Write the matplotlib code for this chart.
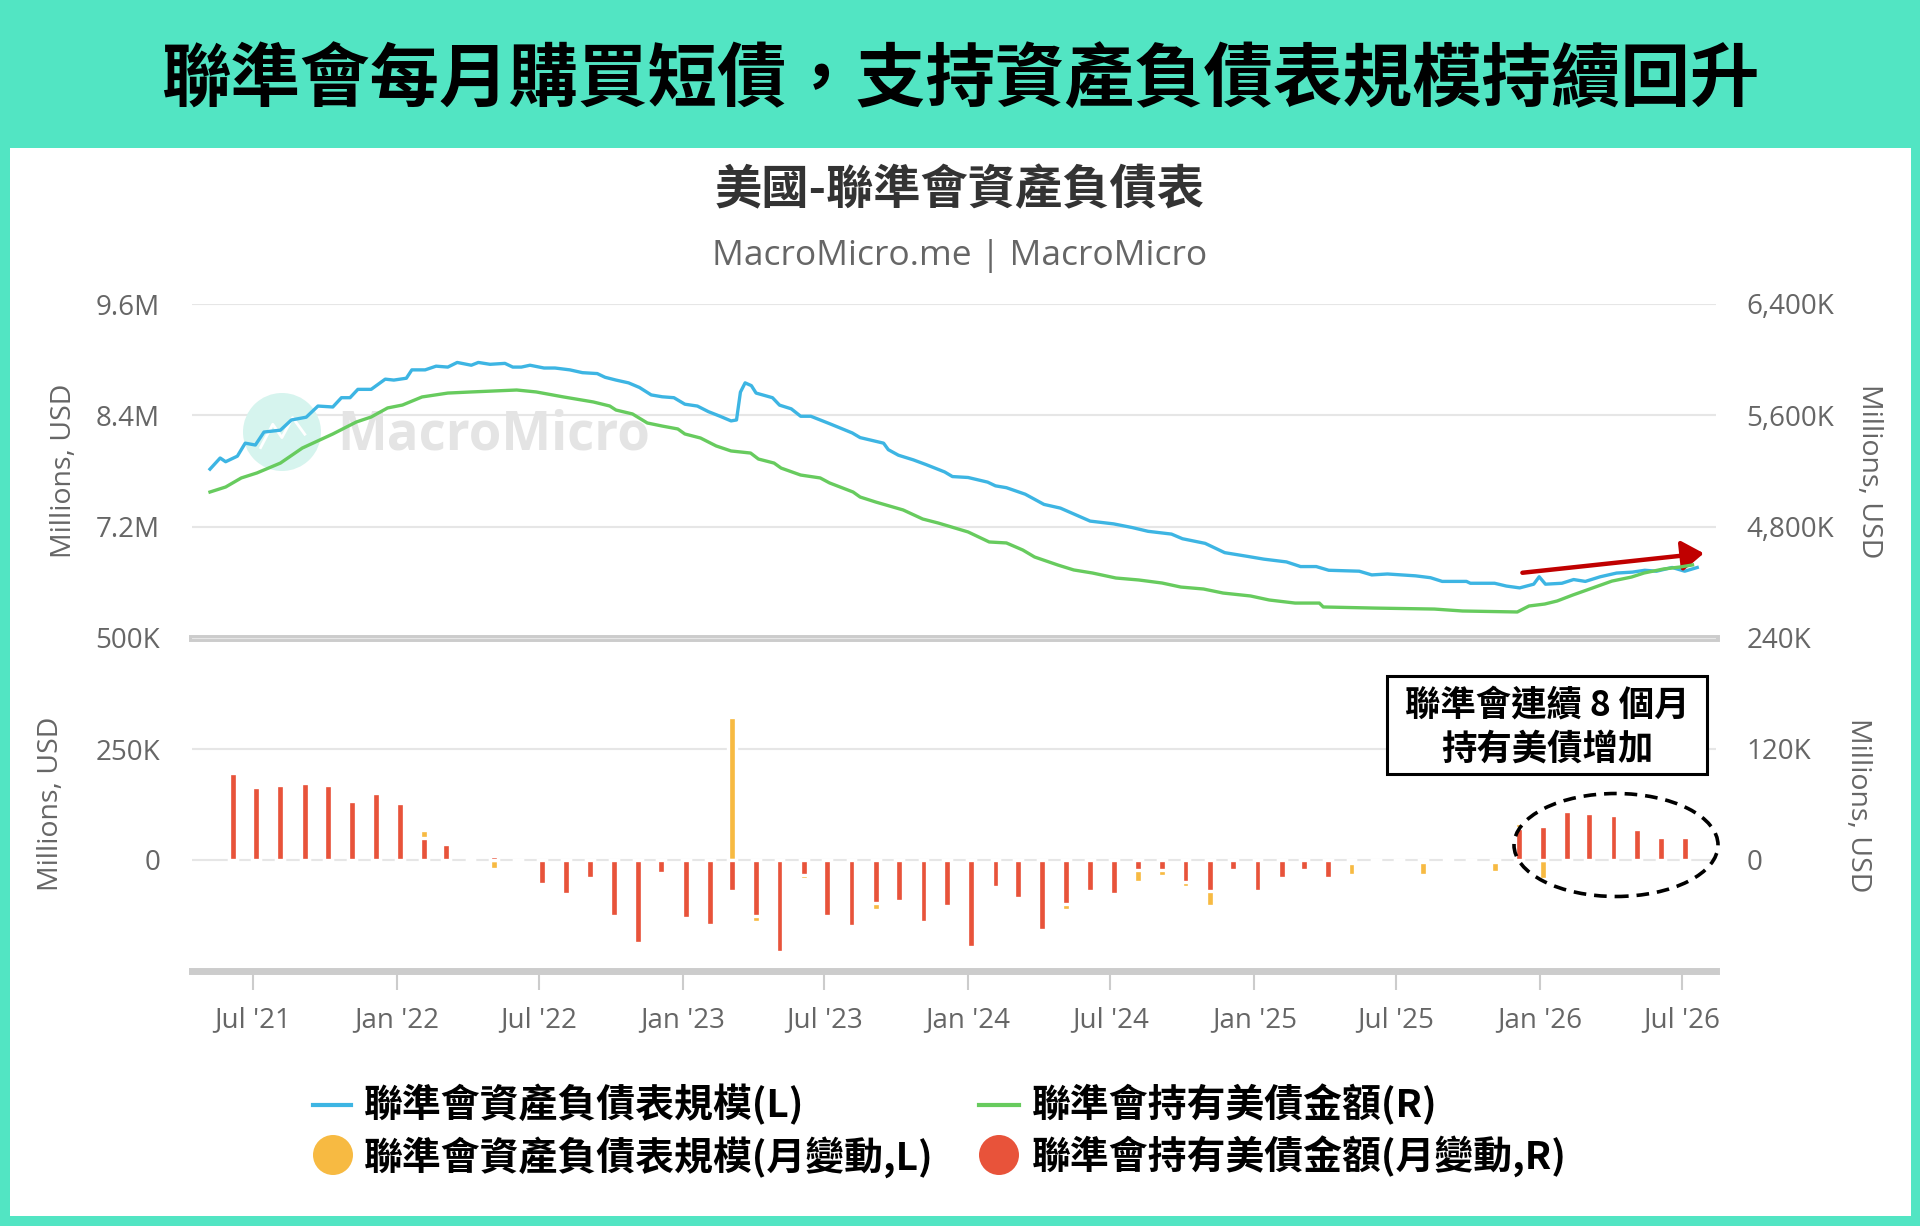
import matplotlib
matplotlib.use("Agg")
import matplotlib.pyplot as plt
import matplotlib.dates as mdates
from matplotlib.patches import Ellipse, Rectangle, FancyArrowPatch
from matplotlib.lines import Line2D
import pandas as pd

plt.rcParams['font.family'] = ['Open Sans', 'Noto Sans CJK TC', 'DejaVu Sans']
CJK = ['Noto Sans CJK TC', 'DejaVu Sans']

# --- data ---
# Fed balance sheet size (L, millions USD -> shown in M)
blue_dates = ["2021-05-07", "2021-05-20", "2021-05-27", "2021-06-11", "2021-06-21", "2021-07-04",
              "2021-07-15", "2021-08-05", "2021-08-19", "2021-09-07", "2021-09-22", "2021-10-11",
              "2021-10-22", "2021-11-02", "2021-11-12", "2021-11-29", "2021-12-17", "2021-12-28",
              "2022-01-13", "2022-01-20", "2022-02-06", "2022-02-20", "2022-03-07", "2022-03-19",
              "2022-04-06", "2022-04-15", "2022-04-30", "2022-05-19", "2022-05-29", "2022-06-09",
              "2022-06-20", "2022-07-08", "2022-07-22", "2022-08-10", "2022-08-26", "2022-09-14",
              "2022-09-24", "2022-10-08", "2022-10-24", "2022-11-07", "2022-11-22", "2022-12-06",
              "2022-12-21", "2023-01-04", "2023-01-20", "2023-02-03", "2023-02-18", "2023-03-04",
              "2023-03-11", "2023-03-16", "2023-03-22", "2023-03-30", "2023-04-05", "2023-04-26",
              "2023-05-05", "2023-05-20", "2023-06-01", "2023-06-14", "2023-07-08", "2023-08-06",
              "2023-08-16", "2023-09-15", "2023-09-21", "2023-10-04", "2023-10-23", "2023-11-08",
              "2023-12-02", "2023-12-12", "2024-01-01", "2024-01-26", "2024-02-05", "2024-02-19",
              "2024-03-14", "2024-04-07", "2024-04-28", "2024-05-17", "2024-06-05", "2024-07-05",
              "2024-07-29", "2024-08-18", "2024-09-17", "2024-10-01", "2024-10-30", "2024-11-24",
              "2024-12-23", "2025-01-13", "2025-02-11", "2025-03-01", "2025-03-21", "2025-04-06",
              "2025-05-15", "2025-05-31", "2025-06-20", "2025-07-26", "2025-08-14", "2025-08-29",
              "2025-09-29", "2025-10-04", "2025-11-04", "2025-11-19", "2025-12-06", "2025-12-24",
              "2025-12-31", "2026-01-08", "2026-01-29", "2026-02-13", "2026-02-28", "2026-03-19",
              "2026-04-09", "2026-04-29", "2026-05-15", "2026-05-30", "2026-06-19", "2026-07-05",
              "2026-07-21"]
blue_vals = [7.82, 7.94, 7.90, 7.96, 8.10, 8.08, 8.22, 8.24, 8.35, 8.38, 8.50, 8.49,
             8.59, 8.59, 8.68, 8.68, 8.79, 8.78, 8.80, 8.89, 8.89, 8.93, 8.92, 8.97,
             8.94, 8.97, 8.95, 8.96, 8.92, 8.92, 8.94, 8.91, 8.91, 8.89, 8.86, 8.85,
             8.81, 8.78, 8.75, 8.70, 8.62, 8.60, 8.59, 8.52, 8.50, 8.44, 8.39, 8.34,
             8.35, 8.65, 8.75, 8.72, 8.64, 8.59, 8.51, 8.47, 8.39, 8.39, 8.31, 8.21,
             8.16, 8.10, 8.03, 7.97, 7.92, 7.87, 7.79, 7.74, 7.73, 7.68, 7.64, 7.62,
             7.55, 7.44, 7.40, 7.33, 7.26, 7.23, 7.19, 7.15, 7.12, 7.07, 7.02, 6.92,
             6.88, 6.85, 6.82, 6.77, 6.77, 6.73, 6.72, 6.68, 6.69, 6.67, 6.65, 6.61,
             6.61, 6.59, 6.59, 6.56, 6.54, 6.58, 6.66, 6.58, 6.59, 6.63, 6.61, 6.66,
             6.70, 6.71, 6.73, 6.72, 6.76, 6.72, 6.76]

# Fed Treasury holdings (R, in K of millions USD)
green_dates = ["2021-05-07", "2021-05-27", "2021-06-16", "2021-07-06", "2021-08-05", "2021-09-02",
               "2021-10-11", "2021-11-10", "2021-11-29", "2021-12-20", "2022-01-08", "2022-02-02",
               "2022-03-07", "2022-04-06", "2022-06-03", "2022-06-28", "2022-08-02", "2022-09-09",
               "2022-09-30", "2022-10-08", "2022-10-29", "2022-11-17", "2022-12-06", "2022-12-26",
               "2023-01-04", "2023-01-24", "2023-02-13", "2023-03-04", "2023-03-29", "2023-04-08",
               "2023-04-28", "2023-05-07", "2023-06-01", "2023-06-26", "2023-07-08", "2023-08-07",
               "2023-08-16", "2023-09-05", "2023-10-10", "2023-11-04", "2023-11-24", "2024-01-01",
               "2024-01-28", "2024-02-19", "2024-03-11", "2024-03-26", "2024-04-25", "2024-05-15",
               "2024-06-08", "2024-07-08", "2024-08-06", "2024-09-05", "2024-09-29", "2024-10-28",
               "2024-11-22", "2024-12-27", "2025-01-20", "2025-02-22", "2025-03-25", "2025-03-30",
               "2025-06-04", "2025-08-19", "2025-09-24", "2025-12-03", "2025-12-18", "2026-01-07",
               "2026-01-23", "2026-02-12", "2026-03-09", "2026-04-03", "2026-04-28", "2026-05-14",
               "2026-06-08", "2026-06-29", "2026-07-15"]
green_vals = [5049, 5085, 5150, 5186, 5257, 5365, 5466, 5552, 5588, 5653, 5674, 5732,
              5760, 5768, 5782, 5768, 5732, 5696, 5667, 5638, 5610, 5545, 5523, 5502,
              5466, 5437, 5380, 5344, 5329, 5286, 5257, 5221, 5171, 5150, 5114, 5049,
              5013, 4977, 4920, 4855, 4826, 4762, 4690, 4683, 4632, 4582, 4524, 4489,
              4467, 4431, 4417, 4395, 4366, 4352, 4323, 4302, 4273, 4251, 4251, 4223,
              4215, 4208, 4194, 4187, 4230, 4244, 4266, 4309, 4359, 4409, 4438, 4467,
              4496, 4510, 4525]

# monthly changes, Jun 2021 - Jul 2026
months = pd.date_range("2021-06-01", "2026-07-01", freq="MS")
bs_chg = [120, 110, 120, 130, 90, 110, 100, 80, 67, 25, 2, -20,
          -3, -30, -40, -30, -80, -100, -20, -90, -80, 321, -139, -110,
          -42, -70, -80, -113, -60, -80, -60, -90, -40, -50, -90, -113,
          -40, -50, -50, -37, -60, -103, -15, -50, -46, -15, -30, -33,
          -6, -11, -33, 1, -12, -28, 84, -42, 30, 30, 40, 20, 15, 10]
ust_chg = [94, 79, 81, 83, 81, 64, 72, 62, 24, 17, 2, 4,
           -2.5, -26, -37, -20, -61, -90, -14, -63, -70, -33, -61, -99,
           -16, -61, -71, -46, -44, -67, -50, -94, -29, -41, -76, -48,
           -33, -37, -11, -11, -24, -33, -11, -33, -20, -11, -20, -3,
           -2, -2, -2, 2, -2, -2, 35, 37, 53, 51, 49, 34, 25, 25]

tick_dates = pd.date_range("2021-07-01", "2026-07-01", freq="6MS")
tick_labels = ["Jul '21", "Jan '22", "Jul '22", "Jan '23", "Jul '23", "Jan '24",
               "Jul '24", "Jan '25", "Jul '25", "Jan '26", "Jul '26"]

TEAL = "#52E5C3"
BLUE = "#3DB5E3"
GREEN = "#67CB5E"
ORANGE = "#F7BA42"
RED = "#E8533A"
GRAY = "#666666"

W, H = 1920, 1226
def fx(px):
    return px / W
def fy(py):
    return 1 - py / H

fig = plt.figure(figsize=(19.2, 12.26), dpi=100, facecolor=TEAL)
fig.add_artist(Rectangle((fx(10), fy(1216)), (1901) / W, (1216 - 148) / H,
                         transform=fig.transFigure, facecolor="white", edgecolor="none", zorder=-5))

fig.text(0.5, fy(82), "聯準會每月購買短債，支持資產負債表規模持續回升", ha="center", va="center",
         fontsize=50, fontweight="bold", family=CJK, color="black")
fig.text(0.5, fy(190), "美國-聯準會資產負債表", ha="center", va="center",
         fontsize=34, fontweight="bold", family=CJK, color="#333333")
fig.text(0.5, fy(256), "MacroMicro.me | MacroMicro", ha="center", va="center",
         fontsize=25.5, color=GRAY)

ax1 = fig.add_axes([fx(192), fy(638), (1716 - 192) / W, (638 - 304) / H])
ax2 = fig.add_axes([fx(192), fy(971), (1716 - 192) / W, (971 - 638) / H])
ax1r = ax1.twinx()
ax2r = ax2.twinx()

xmin, xmax = pd.Timestamp("2021-04-14"), pd.Timestamp("2026-08-14")
for ax in (ax1, ax2, ax1r, ax2r):
    ax.set_xlim(xmin, xmax)
    ax.patch.set_visible(False)
    for s in ax.spines.values():
        s.set_visible(False)
for ax in (ax1, ax2):
    ax.spines["bottom"].set_visible(True)
    ax.spines["bottom"].set_color("#cccccc")
    ax.spines["bottom"].set_linewidth(5)
    ax.set_axisbelow(True)
    ax.yaxis.grid(True, color="#e6e6e6", linewidth=1.5)

# upper panel
ax1.plot(pd.to_datetime(blue_dates), blue_vals, color=BLUE, lw=2.4, zorder=3)
ax1r.plot(pd.to_datetime(green_dates), green_vals, color=GREEN, lw=2.4, zorder=3)
ax1.set_ylim(6.0, 9.6)
ax1.set_yticks([7.2, 8.4, 9.6])
ax1.set_yticklabels(["7.2M", "8.4M", "9.6M"])
ax1r.set_ylim(4000, 6400)
ax1r.set_yticks([4800, 5600, 6400])
ax1r.set_yticklabels(["4,800K", "5,600K", "6,400K"])
ax1.tick_params(axis="x", bottom=False, labelbottom=False)
ax1r.tick_params(axis="x", bottom=False, labelbottom=False)

# watermark
ax1.add_patch(Ellipse((90 / 1524, (638 - 432) / 334), 78 / 1524, 78 / 334,
                      transform=ax1.transAxes, facecolor="#d6f4ee", edgecolor="none", zorder=0.6))
ax1.plot([0.045, 0.053, 0.059, 0.066, 0.074], [0.57, 0.64, 0.60, 0.66, 0.61],
         transform=ax1.transAxes, color="white", lw=2, zorder=0.7)
ax1.text((337 - 192) / 1524, (638 - 435) / 334, "MacroMicro", transform=ax1.transAxes,
         ha="left", va="center", fontsize=38, fontweight="bold", color="#e4e4e4", zorder=0.7)

# arrow
ax1.add_patch(FancyArrowPatch((pd.Timestamp("2025-12-06"), 6.70), (pd.Timestamp("2026-08-02"), 6.916),
                              arrowstyle="-|>,head_length=0.95,head_width=0.65", mutation_scale=14,
                              color="#C00000", lw=3.2, zorder=5, clip_on=False))

# lower panel
bar_x = months + pd.Timedelta(days=4)
ax2.bar(bar_x, bs_chg, width=10, color=ORANGE, edgecolor="white", linewidth=2.4, zorder=2)
ax2r.bar(bar_x, ust_chg, width=10, color=RED, edgecolor="white", linewidth=2.4, zorder=2)
ax2.set_ylim(-250, 500)
ax2.set_yticks([0, 250, 500])
ax2.set_yticklabels(["0", "250K", "500K"])
ax2r.set_ylim(-120, 240)
ax2r.set_yticks([0, 120, 240])
ax2r.set_yticklabels(["0", "120K", "240K"])
ax2.set_xticks(tick_dates)
ax2.set_xticklabels(tick_labels)
ax2.tick_params(axis="x", length=14, width=1.5, color="#cccccc", pad=11,
                labelsize=20, labelcolor=GRAY)
ax2r.tick_params(axis="x", bottom=False, labelbottom=False)

for ax in (ax1, ax2):
    ax.tick_params(axis="y", length=0, pad=23, labelsize=20, labelcolor=GRAY)
for ax in (ax1r, ax2r):
    ax.tick_params(axis="y", length=0, pad=22, labelsize=20, labelcolor=GRAY)

# axis titles
fig.text(fx(64), fy(471), "Millions, USD", rotation=90, ha="center", va="center", fontsize=20.5, color=GRAY)
fig.text(fx(51), fy(804), "Millions, USD", rotation=90, ha="center", va="center", fontsize=20.5, color=GRAY)
fig.text(fx(1869), fy(471), "Millions, USD", rotation=270, ha="center", va="center", fontsize=20.5, color=GRAY)
fig.text(fx(1858), fy(805), "Millions, USD", rotation=270, ha="center", va="center", fontsize=20.5, color=GRAY)

# annotation box and dashed ellipse
fig.add_artist(Rectangle((fx(1387), fy(774)), 320 / W, 98 / H, transform=fig.transFigure,
                         facecolor="white", edgecolor="black", linewidth=2.2, zorder=6))
fig.text(fx(1547), fy(705), "聯準會連續 8 個月", ha="center", va="center", fontsize=25.5,
         fontweight="bold", family=CJK, color="black", zorder=7)
fig.text(fx(1547), fy(749), "持有美債增加", ha="center", va="center", fontsize=25.5,
         fontweight="bold", family=CJK, color="black", zorder=7)
ax2r.add_patch(Ellipse(((1616 - 192) / 1524, (971 - 845) / 333), 204 / 1524, 103 / 333,
                       transform=ax2r.transAxes, facecolor="none", edgecolor="black",
                       linewidth=2.6, linestyle=(0, (3.5, 2.2)), clip_on=False, zorder=6))

# legend
fig.add_artist(Line2D([fx(313), fx(351)], [fy(1105), fy(1105)], transform=fig.transFigure,
                      color=BLUE, lw=3))
fig.add_artist(Line2D([fx(979), fx(1019)], [fy(1105), fy(1105)], transform=fig.transFigure,
                      color=GREEN, lw=3))
fig.add_artist(Ellipse((fx(333), fy(1155)), 40 / W, 40 / H, transform=fig.transFigure,
                       facecolor=ORANGE, edgecolor="none"))
fig.add_artist(Ellipse((fx(999), fy(1155)), 40 / W, 40 / H, transform=fig.transFigure,
                       facecolor=RED, edgecolor="none"))
leg = [("聯準會資產負債表規模(L)", 364, 1105), ("聯準會持有美債金額(R)", 1032, 1105),
       ("聯準會資產負債表規模(月變動,L)", 364, 1157), ("聯準會持有美債金額(月變動,R)", 1032, 1157)]
for txt, x, y in leg:
    fig.text(fx(x), fy(y), txt, ha="left", va="center", fontsize=28, fontweight="bold",
             family=CJK, color="black")

fig.savefig("out.png", dpi=100, facecolor=TEAL)
